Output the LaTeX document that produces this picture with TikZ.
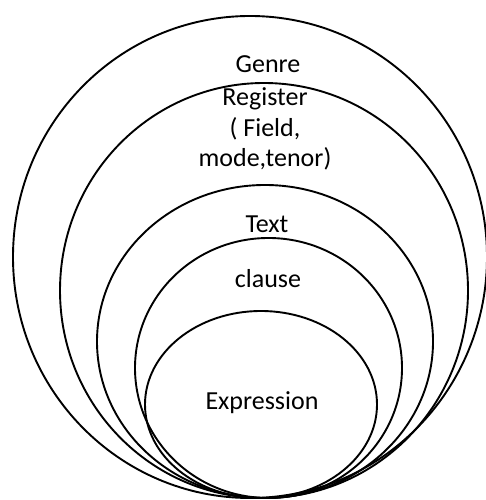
\documentclass[tikz,border=0pt]{standalone}
\usepackage{fontspec}
\setmainfont{Carlito}
\begin{document}
\begin{tikzpicture}[x=1pt,y=1pt,
  ring/.style={draw=black,line width=1.9pt},
  lbl/.style={font=\fontsize{26}{31}\selectfont,anchor=base,inner sep=0pt}]
\useasboundingbox (0,0) rectangle (486,500);
\draw[ring] (250,243) ellipse [x radius=237, y radius=241];
\draw[ring] (264,209.5) ellipse [x radius=204, y radius=207.5];
\draw[ring] (265,158.5) ellipse [x radius=168, y radius=156.5];
\draw[ring] (268.5,132) ellipse [x radius=133.5, y radius=130];
\draw[ring] (261,95.5) ellipse [x radius=116, y radius=93.5];
\node[lbl] (genre) at (268,427) {Genre};
\node[lbl] (register) at (265,394) {Register};
\node[lbl] (field) at (265,363) {( Field,};
\node[lbl] (mode) at (265,333) {mode,tenor)};
\node[lbl] (text) at (267,267) {Text};
\node[lbl] (clause) at (268,212) {clause};
\node[lbl] (expression) at (262,90) {Expression};
\end{tikzpicture}
\end{document}
